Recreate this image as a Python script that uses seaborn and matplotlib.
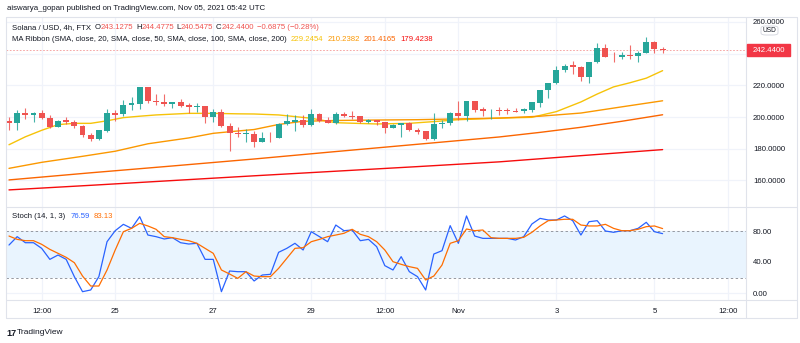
import numpy as np
import pandas as pd
import matplotlib
matplotlib.use("Agg")
import matplotlib.pyplot as plt
from matplotlib.lines import Line2D
from matplotlib.patches import FancyBboxPatch, Rectangle
import seaborn as sns

# ---------------- data ----------------
start_time = "2021-10-22 20:00"
opens = [197.5, 196.0, 202.7, 201.3, 202.3, 199.2, 193.5, 198.1, 196.6, 194.3,
         188.6, 186.1, 191.4, 202.7, 201.7, 207.6, 208.2, 218.7, 210.3, 209.7,
         208.4, 209.5, 207.6, 206.5, 207.2, 199.8, 202.9, 194.3, 190.1, 189.3,
         189.3, 184.4, 186.9, 186.9, 195.6, 197.1, 198.1, 194.9, 201.9, 198.1,
         196.4, 201.9, 200.6, 200.6, 197.1, 198.1, 197.1, 193.3, 194.9, 196.0,
         191.8, 191.2, 186.1, 195.4, 196.0, 202.7, 200.8, 210.1, 205.0, 204.2,
         204.4, 204.4, 204.0, 203.8, 204.4, 209.0, 217.0, 221.2, 229.7, 232.6,
         231.8, 225.5, 234.5, 243.3, 238.1, 237.6, 239.1, 238.7, 240.6, 247.1,
         243.1275]
highs = [200.2, 204.4, 205.9, 203.4, 204.4, 201.3, 198.1, 199.8, 198.1, 194.9,
         189.7, 191.8, 205.0, 204.4, 210.7, 212.4, 218.7, 218.7, 214.3, 214.3,
         209.5, 211.1, 209.0, 209.0, 207.2, 204.8, 205.0, 196.4, 193.9, 192.2,
         191.4, 190.7, 190.7, 196.0, 201.9, 201.3, 201.3, 205.0, 202.7, 199.8,
         203.4, 203.4, 204.0, 200.6, 198.5, 198.1, 197.1, 195.4, 196.0, 197.1,
         192.9, 191.2, 202.3, 198.1, 203.4, 210.3, 210.1, 210.1, 206.5, 204.8,
         206.5, 205.5, 205.5, 205.9, 209.3, 217.0, 221.2, 232.2, 233.2, 235.3,
         232.2, 234.5, 246.5, 245.8, 241.2, 241.2, 245.4, 241.8, 250.7, 248.2,
         244.4775]
lows = [191.8, 191.8, 198.5, 197.1, 198.5, 192.9, 193.5, 195.6, 192.9, 187.6,
        184.9, 185.5, 190.7, 197.7, 200.6, 204.4, 204.8, 209.0, 207.6, 207.2,
        205.5, 206.5, 202.3, 203.4, 196.4, 197.1, 193.9, 178.8, 187.2, 184.4,
        180.9, 184.4, 184.4, 186.5, 195.0, 191.2, 193.9, 194.5, 197.1, 196.0,
        195.6, 199.8, 198.5, 196.4, 196.0, 194.9, 190.1, 192.9, 187.6, 191.2,
        189.3, 185.5, 185.5, 192.9, 195.0, 198.1, 197.7, 203.4, 200.6, 198.5,
        201.3, 201.9, 203.0, 202.7, 203.4, 206.5, 211.8, 220.8, 228.6, 227.1,
        222.9, 221.2, 233.9, 237.6, 234.9, 236.4, 236.4, 234.5, 240.2, 240.6,
        240.5475]
closes = [196.0, 202.7, 201.3, 202.7, 199.2, 193.5, 197.7, 196.6, 194.3, 188.6,
          186.1, 191.8, 202.3, 201.3, 207.6, 208.6, 218.7, 210.3, 209.5, 208.2,
          209.5, 207.2, 206.5, 207.2, 199.8, 202.9, 194.3, 190.1, 189.3, 189.7,
          184.4, 186.5, 186.6, 195.4, 197.5, 198.1, 194.9, 201.9, 197.7, 196.4,
          201.9, 200.6, 200.0, 197.1, 198.1, 197.1, 193.3, 194.9, 196.0, 191.8,
          190.7, 186.1, 195.4, 196.4, 202.7, 200.8, 210.1, 204.4, 203.8, 204.6,
          204.0, 203.8, 203.4, 204.8, 209.3, 217.0, 221.2, 229.7, 232.4, 231.8,
          225.5, 234.5, 243.3, 238.1, 237.6, 239.1, 238.7, 240.6, 247.1, 242.9,
          242.44]

ma20_bar = [0, 2, 4, 6, 8, 10, 12, 14, 16, 18, 20, 22, 25, 28, 30, 33, 37, 40,
            45, 49, 52, 55, 60, 64, 67, 70, 72, 74, 76, 78, 80]
ma20 = [182.5, 187.5, 191.6, 195.2, 196.0, 196.0, 197.6, 199.6, 200.5, 201.3,
        201.8, 202.3, 202.3, 202.0, 201.9, 201.3, 199.2, 196.4, 195.6, 196.0,
        197.1, 198.3, 199.3, 199.8, 203.4, 209.5, 214.5, 219.0, 221.6, 224.5,
        229.2454]
ma50_bar = [0, 4, 9, 13, 17, 22, 25, 27, 30, 33, 36, 40, 45, 50, 55, 60, 65, 70,
            75, 80]
ma50 = [167.6, 171.4, 175.2, 178.4, 183.1, 186.8, 189.7, 190.7, 192.1, 195.3,
        197.3, 197.8, 198.1, 198.3, 198.8, 199.3, 200.5, 202.5, 206.4, 210.2382]
ma100_bar = [0, 10, 20, 30, 40, 50, 60, 65, 70, 75, 80]
ma100 = [160.3, 164.8, 169.1, 173.5, 178.2, 182.8, 187.4, 190.3, 193.5, 197.3,
         201.4165]
ma200_bar = [0, 10, 20, 30, 40, 50, 60, 70, 80]
ma200 = [154.0, 156.9, 159.9, 162.9, 165.8, 168.7, 171.7, 175.6, 179.4238]

stoch_k = [61.9, 72.7, 64.9, 64.9, 57.6, 43.4, 49.0, 43.4, 21.1, 1.7,
           3.9, 21.1, 66.2, 80.4, 88.6, 83.4, 98.5, 74.8, 72.7, 69.7,
           71.4, 64.9, 63.2, 64.1, 43.4, 43.4, 1.7, 28.4, 27.5, 27.5,
           15.5, 23.2, 24.1, 52.5, 57.6, 64.1, 55.5, 79.1, 72.7, 66.2,
           87.7, 80.4, 81.3, 67.5, 69.2, 59.8, 35.3, 29.7, 46.9, 27.5,
           21.1, 3.9, 50.3, 54.6, 86.9, 64.1, 99.4, 73.5, 70.5, 70.5,
           70.5, 70.5, 68.4, 72.7, 89.0, 96.3, 94.2, 94.2, 99.4, 93.3,
           74.8, 92.0, 93.3, 80.0, 78.3, 80.4, 80.4, 83.4, 91.2, 79.1,
           76.59]
stoch_d = [73.5, 69.2, 67.5, 67.5, 62.8, 56.3, 51.2, 46.0, 39.1, 21.9,
           9.0, 9.0, 29.7, 55.5, 79.1, 83.4, 89.9, 86.5, 82.2, 72.7,
           71.4, 69.2, 67.5, 64.1, 57.6, 51.2, 29.7, 24.5, 18.9, 27.5,
           21.9, 21.1, 21.1, 31.8, 44.7, 57.6, 58.5, 66.2, 69.2, 72.7,
           74.8, 77.0, 82.2, 75.7, 72.7, 66.2, 55.5, 40.4, 37.0, 34.0,
           31.8, 16.8, 21.9, 36.1, 64.1, 67.5, 82.6, 80.4, 81.3, 71.4,
           70.5, 70.5, 70.5, 71.8, 78.3, 86.5, 93.3, 94.2, 95.1, 95.1,
           87.7, 86.5, 86.5, 88.6, 83.4, 80.4, 80.4, 82.2, 85.6, 86.5,
           83.13]

tick_times = ["2021-10-23 12:00", "2021-10-25 00:00", "2021-10-27 00:00",
              "2021-10-29 00:00", "2021-10-30 12:00", "2021-11-01 00:00",
              "2021-11-03 00:00", "2021-11-05 00:00", "2021-11-06 12:00"]
tick_labels = ["12:00", "25", "27", "29", "12:00", "Nov", "3", "5", "12:00"]
price_ticks = [160, 180, 200, 220, 240, 260]
price_labels = ["160.0000", "180.0000", "200.0000", "220.0000", "", "260.0000"]
stoch_ticks = [0, 40, 80]

title_text = "aiswarya_gopan published on TradingView.com, Nov 05, 2021 05:42 UTC"
last_price = 242.44

# ---------------- style ----------------
sns.set_theme(style="white")
plt.rcParams['font.family'] = ['Liberation Sans', 'DejaVu Sans']
FS = 5.6
TXT = "#131722"
GRID = "#f0f3fa"
BORDER = "#e0e3eb"
GREEN = "#26a69a"
RED = "#ef5350"
MA_COLORS = ["#f6c309", "#fb9800", "#fb6500", "#f60c0c"]

W, H = 800, 343
fig = plt.figure(figsize=(W / 100, H / 100), dpi=100)
fig.patch.set_facecolor("white")

def fx(x):
    return x / W

def fy(y):
    return 1 - y / H

x_left, x_right = 6, 746
bar_px0, bar_step = 9.0, 8.17
xlim = ((x_left - bar_px0) / bar_step, (x_right - bar_px0) / bar_step)

ax1 = fig.add_axes([fx(x_left), fy(207), (x_right - x_left) / W, 190 / H])
ax2 = fig.add_axes([fx(x_left), fy(300), (x_right - x_left) / W, 93 / H])

n = len(opens)
idx = np.arange(n)
t0 = pd.Timestamp(start_time)
tick_pos = [(pd.Timestamp(t) - t0) / pd.Timedelta(hours=4) for t in tick_times]

for ax in (ax1, ax2):
    ax.set_xlim(*xlim)
    for s in ax.spines.values():
        s.set_visible(False)
    ax.set_facecolor("white")
    for p in tick_pos:
        ax.axvline(p, color=GRID, lw=0.9, zorder=0)

# ---------------- price pane ----------------
ylo = 200 - (207 - 117) / 1.585
yhi = 200 + (117 - 17) / 1.585
ax1.set_ylim(ylo, yhi)
for p in price_ticks:
    ax1.axhline(p, color=GRID, lw=0.9, zorder=0)

o = np.array(opens); c = np.array(closes)
hi = np.array(highs); lo = np.array(lows)
up = c >= o
cols = np.where(up, GREEN, RED)
ax1.vlines(idx, lo, hi, colors=cols, lw=0.8, alpha=0.85, zorder=3)
body_lo = np.minimum(o, c)
body_h = np.maximum(np.abs(c - o), 0.45)
ax1.bar(idx, body_h, bottom=body_lo, width=0.72, color=cols, linewidth=0, zorder=4)

for bars, vals, col in zip([ma20_bar, ma50_bar, ma100_bar, ma200_bar],
                           [ma20, ma50, ma100, ma200], MA_COLORS):
    sns.lineplot(x=bars, y=vals, ax=ax1, color=col, lw=1.0,
                 estimator=None, zorder=2)

ax1.axhline(last_price, color=RED, lw=0.6, ls=(0, (2, 2)), alpha=0.6, zorder=1)

ax1.yaxis.tick_right()
ax1.set_yticks(price_ticks)
ax1.set_yticklabels(price_labels, fontsize=FS, color=TXT)
ax1.tick_params(axis='y', length=0, pad=5)
ax1.set_xticks([])
ax1.set_xlabel(""); ax1.set_ylabel("")

# ---------------- stoch pane ----------------
ax2.set_ylim((293 - 300) / 0.775, (293 - 207) / 0.775)
for v in stoch_ticks:
    ax2.axhline(v, color=GRID, lw=0.9, zorder=0)
ax2.axhspan(20, 80, color="#e9f4fe", zorder=0.5, lw=0)
ax2.axhline(80, color="#9598a1", lw=0.7, ls=(0, (2.5, 2.5)), zorder=1)
ax2.axhline(20, color="#9598a1", lw=0.7, ls=(0, (2.5, 2.5)), zorder=1)
st_df = pd.DataFrame({"bar": idx, "K": stoch_k, "D": stoch_d})
sns.lineplot(data=st_df, x="bar", y="K", ax=ax2, color="#2962ff", lw=0.9,
             estimator=None, zorder=3)
sns.lineplot(data=st_df, x="bar", y="D", ax=ax2, color="#ff6d00", lw=0.9,
             estimator=None, zorder=4)
ax2.yaxis.tick_right()
ax2.set_yticks(stoch_ticks)
ax2.set_yticklabels([f"{v:.2f}" for v in stoch_ticks], fontsize=FS, color=TXT)
ax2.tick_params(axis='y', length=0, pad=5)
ax2.set_xticks(tick_pos)
ax2.set_xticklabels(tick_labels, fontsize=FS, color=TXT)
ax2.tick_params(axis='x', length=0, pad=6)
ax2.set_xlabel(""); ax2.set_ylabel("")

# ---------------- frame lines ----------------
def hline(y, x0, x1):
    fig.add_artist(Line2D([fx(x0), fx(x1)], [fy(y), fy(y)], color=BORDER, lw=0.8))

def vline(x, y0, y1):
    fig.add_artist(Line2D([fx(x), fx(x)], [fy(y0), fy(y1)], color=BORDER, lw=0.8))

hline(17, 6, 797); hline(207, 6, 797); hline(300, 6, 797); hline(318, 6, 797)
vline(6, 17, 318); vline(746, 17, 318); vline(797, 17, 318)

# ---------------- texts ----------------
renderer = fig.canvas.get_renderer()

def seq_text(x, y, parts, size=FS):
    for s, col, gap in parts:
        t = fig.text(fx(x), fy(y), s, color=col, fontsize=size, va="center", ha="left")
        bb = t.get_window_extent(renderer=renderer)
        x += bb.width + gap
    return x

fig.text(fx(7), fy(8), title_text, fontsize=FS + 0.1, color=TXT, va="center", ha="left")

seq_text(12, 27.5, [("Solana / USD, 4h, FTX", TXT, 4),
                    ("O", TXT, 0), ("243.1275", RED, 2.5),
                    ("H", TXT, 0), ("244.4775", RED, 2.5),
                    ("L", TXT, 0), ("240.5475", RED, 2.5),
                    ("C", TXT, 0), ("242.4400", RED, 3),
                    ("\u22120.6875 (\u22120.28%)", RED, 0)])
seq_text(12, 39.5, [("MA Ribbon (SMA, close, 20, SMA, close, 50, SMA, close, 100, SMA, close, 200)", TXT, 4),
                    ("229.2454", MA_COLORS[0], 4),
                    ("210.2382", MA_COLORS[1], 4),
                    ("201.4165", MA_COLORS[2], 4),
                    ("179.4238", MA_COLORS[3], 0)])
seq_text(12, 216, [("Stoch (14, 1, 3)", TXT, 5),
                   ("76.59", "#2962ff", 4),
                   ("83.13", "#ff6d00", 0)])

# last price tag
fig.add_artist(Rectangle((fx(747), fy(56)), 43 / W, 12 / H, color="#f23645",
                         transform=fig.transFigure, zorder=10))
fig.text(fx(768.5), fy(50), "242.4400", color="white", fontsize=FS, ha="center",
         va="center", zorder=11)

# USD badge
fig.add_artist(FancyBboxPatch((fx(761), fy(35)), 17 / W, 9 / H,
                              boxstyle="round,pad=0,rounding_size=0.006",
                              facecolor="white", edgecolor="#d1d4dc", lw=0.6,
                              transform=fig.transFigure, zorder=10))
fig.text(fx(769.5), fy(30.5), "USD", color=TXT, fontsize=FS - 0.8, ha="center",
         va="center", zorder=11)

# TradingView logo
fig.text(fx(6), fy(333), "17", fontsize=FS + 1, fontweight="bold", color=TXT,
         va="center", ha="left")
fig.text(fx(17), fy(333), "TradingView", fontsize=FS + 0.4, color=TXT,
         va="center", ha="left")

fig.savefig("out.png", dpi=100, facecolor="white")
